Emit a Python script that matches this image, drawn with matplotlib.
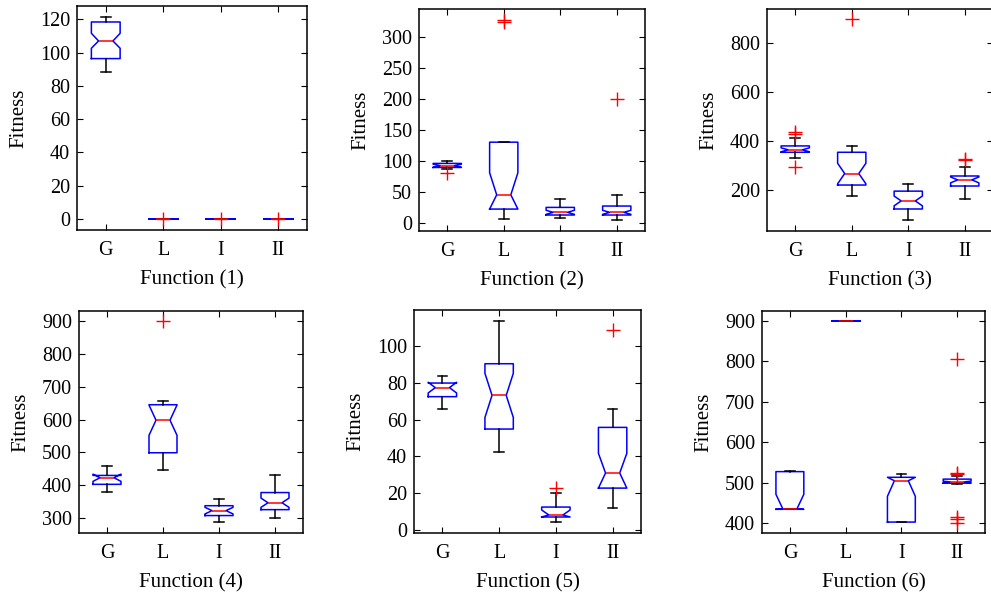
import matplotlib.pyplot as plt

plt.rcParams['font.family'] = ['Liberation Serif', 'DejaVu Serif']

labels = ['G', 'L', 'I', 'II']
titles = ['Function (1)', 'Function (2)', 'Function (3)',
          'Function (4)', 'Function (5)', 'Function (6)']

# box statistics, one row per panel, columns G, L, I, II
medians = [[107, 0, 0, 0],
           [92, 45, 16.7, 16.7],
           [364, 267, 155, 241],
           [423, 598, 323, 347],
           [77.4, 73.2, 8.2, 31],
           [435, 900, 505, 502]]
q1s = [[96.4, 0, 0, 0],
       [89.2, 22, 12.4, 12.4],
       [354, 220, 122, 216],
       [403, 499, 308, 326],
       [72.5, 54.9, 7.1, 22.8],
       [434.5, 900, 403, 499]]
q3s = [[118.4, 0, 0, 0],
       [95.7, 130, 24.7, 26.9],
       [380, 354, 195, 257],
       [430, 645, 338, 378],
       [79.9, 90.4, 12.5, 55.8],
       [527.5, 900, 513.5, 509]]
whis_lo = [[88.1, 0, 0, 0],
           [87, 5.9, 7, 4.3],
           [329, 175, 77, 164],
           [380, 446, 289, 300],
           [65.8, 42.6, 4.3, 11.8],
           [434.5, 900, 403, 498]]
whis_hi = [[121.6, 0, 0, 0],
           [98.9, 130, 38.2, 45],
           [411, 380, 226, 293],
           [460, 655, 357, 431],
           [83.5, 113.6, 20, 65.9],
           [530, 900, 521.7, 517.6]]
ci_lo = [[102.6, 0, 0, 0],
         [89.5, 22, 13.5, 13.5],
         [356, 225, 135, 229],
         [412, 552, 313, 333],
         [74.5, 61.2, 7.1, 22.8],
         [434.5, 900, 466.6, 500]]
ci_hi = [[111.6, 0, 0, 0],
         [94.5, 80.6, 20, 20],
         [372, 309, 175, 253],
         [434, 644, 333, 361],
         [80.3, 85.2, 10.9, 41.7],
         [471.5, 900, 513.5, 504]]
fliers = [[[], [0], [0], [0]],
          [[81], [328, 324], [], [200.5]],
          [[435, 428, 295], [899.5], [], [328, 323]],
          [[], [900], [], []],
          [[], [], [23], [108.5]],
          [[], [], [], [804.6, 525, 521, 416, 411.5, 401.6]]]

ylims = [(-6.6, 128), (-13.4, 345), (32, 940),
         (255, 930), (-1.6, 119.6), (376, 924)]
yticks = [range(0, 121, 20), range(0, 301, 50), range(200, 801, 200),
          range(300, 901, 100), range(0, 101, 20), range(400, 901, 100)]

# axes boxes in pixels: left, right, top, bottom
boxes = [(77, 307, 6, 230), (419, 645, 9, 231), (767, 993, 9, 231),
         (79, 303, 311, 533), (414, 641, 310, 533), (762, 985, 311, 533)]

W, H = 991, 593
fig = plt.figure(figsize=(W / 100, H / 100), dpi=100)

for k in range(6):
    l, r, t, b = boxes[k]
    ax = fig.add_axes([l / W, (H - b) / H, (r - l) / W, (b - t) / H])
    stats = []
    for j in range(4):
        stats.append(dict(med=medians[k][j], q1=q1s[k][j], q3=q3s[k][j],
                          whislo=whis_lo[k][j], whishi=whis_hi[k][j],
                          cilo=ci_lo[k][j], cihi=ci_hi[k][j],
                          fliers=fliers[k][j], label=labels[j]))
    ax.bxp(stats, positions=[1, 2, 3, 4], widths=0.5, capwidths=0.17,
           shownotches=True,
           boxprops=dict(color='blue', linewidth=1.1),
           medianprops=dict(color='red', linewidth=1.1),
           whiskerprops=dict(color='black', linewidth=1.1),
           capprops=dict(color='black', linewidth=1.1),
           flierprops=dict(marker='+', markeredgecolor='red',
                           markersize=10, linestyle='none'))
    ax.set_xlim(0.5, 4.5)
    ax.set_ylim(*ylims[k])
    ax.set_yticks(list(yticks[k]))
    ax.tick_params(direction='in', top=True, right=True, labelsize=14.5,
                   length=4, pad=5)
    ax.tick_params(axis='x', pad=8)
    ax.set_xlabel(titles[k], fontsize=15, labelpad=7)
    ax.set_ylabel('Fitness', fontsize=15, labelpad=8)
    for s in ax.spines.values():
        s.set_linewidth(1.1)

fig.savefig('out.png', dpi=100)
